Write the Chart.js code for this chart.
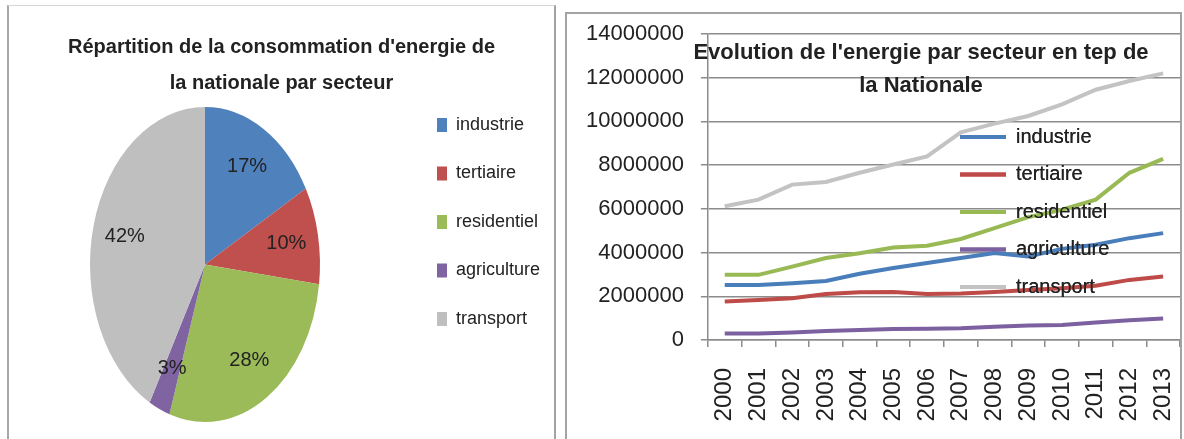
<!DOCTYPE html>
<html>
<head>
<meta charset="utf-8">
<script src="https://cdn.jsdelivr.net/npm/chart.js@4.4.1/dist/chart.umd.min.js"></script>
<style>
  body { margin: 0; background: #fff; width: 1184px; height: 439px; overflow: hidden; position: relative; }
  .frame { position: absolute; box-sizing: border-box; }
  canvas { position: absolute; }
</style>
</head>
<body>
<div class="frame" style="left:7px;top:5px;width:549px;height:440px;border-left:2px solid #a8a8a8;border-top:1px solid #d6d6d6;border-right:2px solid #a3a3a3"></div>
<div class="frame" style="left:565px;top:12px;width:617px;height:440px;border:2px solid #a3a3a3;border-bottom:none"></div>
<canvas id="pie" width="545" height="431" style="left:9px;top:8px"></canvas>
<canvas id="evo" width="612" height="424" style="left:568px;top:15px"></canvas>
<script>
// données
const sectors = ['industrie', 'tertiaire', 'residentiel', 'agriculture', 'transport'];
const shares = [17, 10, 28, 3, 42];
const years = ['2000', '2001', '2002', '2003', '2004', '2005', '2006', '2007', '2008', '2009', '2010', '2011', '2012', '2013'];
const industrie   = [2520000, 2520000, 2600000, 2700000, 3030000, 3290000, 3520000, 3750000, 3980000, 3820000, 4170000, 4360000, 4660000, 4890000];
const tertiaire   = [1760000, 1830000, 1910000, 2100000, 2180000, 2200000, 2100000, 2130000, 2200000, 2290000, 2370000, 2480000, 2750000, 2910000];
const residentiel = [2980000, 2980000, 3360000, 3750000, 3970000, 4230000, 4310000, 4620000, 5120000, 5620000, 5960000, 6420000, 7650000, 8290000];
const agriculture = [300000, 300000, 340000, 410000, 460000, 500000, 520000, 540000, 610000, 660000, 690000, 800000, 900000, 980000];
const transport   = [6120000, 6420000, 7110000, 7230000, 7650000, 8030000, 8400000, 9500000, 9900000, 10250000, 10780000, 11450000, 11850000, 12200000];
const yTicks = [0, 2000000, 4000000, 6000000, 8000000, 10000000, 12000000, 14000000];

const pieTitle = ["Répartition de la consommation d'energie de", 'la nationale par secteur'];
const evoTitle = ["Evolution de l'energie par secteur en tep de", 'la Nationale'];

const colors = ['#4F81BD', '#C0504D', '#9BBB59', '#8064A2', '#BFBFBF'];
const textColor = '#222';
const FONT = '"Liberation Sans", Arial, sans-serif';

Chart.defaults.font.family = FONT;
Chart.defaults.color = textColor;

// camembert un peu écrasé horizontalement comme sur l'image
const SQUEEZE = 0.73;
const LABEL_R = 0.72;

const pieExtras = {
  id: 'pieExtras',
  afterLayout(chart) {
    const t = chart.titleBlock;
    t.left = 0; t.right = chart.width; t.width = chart.width;
    const lg = chart.legend;
    const w = lg.width, h = lg.height;
    lg.left = 397.5; lg.top = 77.5; lg.right = lg.left + w; lg.bottom = lg.top + h;
  },
  beforeDatasetsDraw(chart) {
    const arc = chart.getDatasetMeta(0).data[0];
    const ctx = chart.ctx;
    ctx.save();
    ctx.translate(arc.x, 0);
    ctx.scale(SQUEEZE, 1);
    ctx.translate(-arc.x, 0);
  },
  afterDatasetsDraw(chart) {
    const ctx = chart.ctx;
    ctx.restore();
    ctx.save();
    ctx.font = '20px ' + FONT;
    ctx.fillStyle = textColor;
    ctx.textAlign = 'center';
    ctx.textBaseline = 'middle';
    chart.getDatasetMeta(0).data.forEach((arc, i) => {
      const mid = (arc.startAngle + arc.endAngle) / 2;
      const r = arc.outerRadius * LABEL_R;
      ctx.fillText(shares[i] + '%', arc.x + Math.cos(mid) * r * SQUEEZE, arc.y + Math.sin(mid) * r);
    });
    ctx.restore();
  }
};

new Chart(document.getElementById('pie'), {
  type: 'pie',
  data: {
    labels: sectors,
    datasets: [{ data: shares, backgroundColor: colors, borderWidth: 0, clip: false }]
  },
  options: {
    responsive: false,
    animation: false,
    devicePixelRatio: 1,
    layout: { padding: { left: 38.5, right: 191.5, top: 0, bottom: 17 } },
    plugins: {
      title: {
        display: true,
        text: pieTitle,
        color: textColor,
        font: { size: 20, weight: 'bold', lineHeight: 1.825 },
        padding: { top: 21, bottom: 5 }
      },
      legend: {
        position: 'chartArea',
        align: 'start',
        labels: { boxWidth: 10, boxHeight: 14, padding: 30.5, font: { size: 18 }, color: textColor }
      },
      tooltip: { enabled: false }
    }
  },
  plugins: [pieExtras]
});

// graphique d'évolution
const evoExtras = {
  id: 'evoExtras',
  afterLayout(chart) {
    const lg = chart.legend;
    const w = lg.width, h = lg.height;
    lg.left = 374.5; lg.top = 94.5; lg.right = lg.left + w; lg.bottom = lg.top + h;
  },
  afterDatasetsDraw(chart) {
    chart.legend.draw();
    const ctx = chart.ctx;
    ctx.save();
    ctx.font = 'bold 22px ' + FONT;
    ctx.fillStyle = textColor;
    ctx.textAlign = 'center';
    ctx.textBaseline = 'middle';
    evoTitle.forEach((t, i) => ctx.fillText(t, 353, 37.5 + i * 33));
    ctx.restore();
  }
};

// Chart.js compte deux fois le padding des ticks et ajoute des marges pour les étiquettes
function tightX(scale) {
  scale.height -= scale.options.ticks.padding;
  scale.paddingLeft = 0;
  scale.paddingRight = 0;
}
function tightY(scale) {
  scale.width -= scale.options.ticks.padding;
  scale.paddingTop = 0;
  scale.paddingBottom = 0;
}

const series = [industrie, tertiaire, residentiel, agriculture, transport];
const lineColors = ['#4A7EBB', '#BE4B48', '#98B954', '#7D60A0', '#C3C3C3'];
const gridColor = '#8c8c8c';

new Chart(document.getElementById('evo'), {
  type: 'line',
  data: {
    labels: years,
    datasets: sectors.map((s, i) => ({
      label: s,
      data: series[i],
      borderColor: lineColors[i],
      backgroundColor: lineColors[i],
      borderWidth: 4,
      pointRadius: 0,
      tension: 0,
      fill: false
    }))
  },
  options: {
    responsive: false,
    animation: false,
    devicePixelRatio: 1,
    layout: { padding: { left: 18, right: 0, top: 19, bottom: 17.6 } },
    scales: {
      x: {
        offset: true,
        afterFit: tightX,
        grid: { offset: true, drawOnChartArea: false, tickLength: 7, color: gridColor, lineWidth: 1.5 },
        border: { color: gridColor, width: 1.5 },
        ticks: { minRotation: 90, maxRotation: 90, autoSkip: false, padding: 21, font: { size: 24 }, color: textColor }
      },
      y: {
        min: yTicks[0],
        max: yTicks[yTicks.length - 1],
        afterFit: tightY,
        afterBuildTicks: (axis) => { axis.ticks = yTicks.map(v => ({ value: v })); },
        grid: { color: gridColor, lineWidth: 1.5, tickLength: 7 },
        border: { color: gridColor, width: 1.5 },
        ticks: { padding: 17, font: { size: 22 }, color: textColor, callback: (v) => String(v) }
      }
    },
    plugins: {
      legend: {
        position: 'chartArea',
        align: 'start',
        labels: { usePointStyle: true, pointStyle: 'line', pointStyleWidth: 46, padding: 17.5, font: { size: 20 }, color: textColor }
      },
      title: { display: false },
      tooltip: { enabled: false }
    }
  },
  plugins: [evoExtras]
});
</script>
</body>
</html>
